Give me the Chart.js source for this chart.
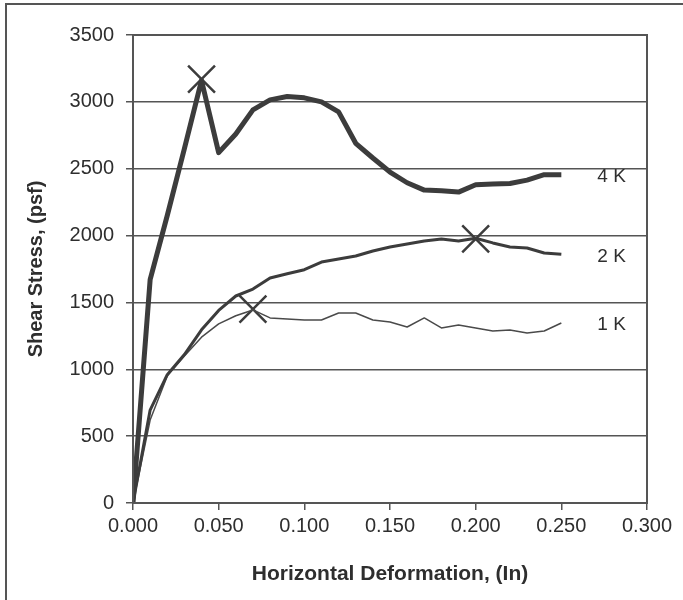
<!DOCTYPE html>
<html>
<head>
<meta charset="utf-8">
<script src="https://cdn.jsdelivr.net/npm/chart.js@4.4.1/dist/chart.umd.min.js"></script>
<style>
  html, body { margin: 0; background: #fff; overflow: hidden; }
  #wrap { position: relative; width: 683px; height: 600px; overflow: hidden; }
  #frame { position: absolute; left: 5px; top: 3px; width: 700px; height: 620px;
           border-top: 2px solid #555; border-left: 2px solid #555; pointer-events: none; }
</style>
</head>
<body>
<div id="wrap">
  <canvas id="shear-chart" width="683" height="600"></canvas>
  <div id="frame"></div>
</div>
<script>
// Horizontal deformation (in)
const deformation = [0, 0.01, 0.02, 0.03, 0.04, 0.05, 0.06, 0.07, 0.08, 0.09, 0.10, 0.11, 0.12,
  0.13, 0.14, 0.15, 0.16, 0.17, 0.18, 0.19, 0.20, 0.21, 0.22, 0.23, 0.24, 0.25];

// Shear stress (psf) for each normal load
const stress4K = [0, 1670, 2150, 2650, 3160, 2620, 2760, 2940, 3015, 3040, 3030, 3000, 2925,
  2690, 2580, 2475, 2395, 2340, 2335, 2325, 2380, 2385, 2390, 2415, 2455, 2455];
const stress2K = [0, 695, 960, 1110, 1295, 1440, 1548, 1600, 1683, 1715, 1745, 1802, 1825,
  1847, 1885, 1915, 1937, 1960, 1975, 1960, 1980, 1945, 1915, 1907, 1870, 1860];
const stress1K = [0, 620, 950, 1100, 1240, 1340, 1400, 1444, 1384, 1376, 1369, 1369, 1421,
  1421, 1369, 1354, 1316, 1384, 1309, 1331, 1309, 1286, 1294, 1271, 1286, 1346];

const seriesLabels = ['4 K', '2 K', '1 K'];

// Peak points marked with an X
const peakX = [0.04, 0.20, 0.07];
const peakY = [3170, 1975, 1450];

const xTicks = [0, 0.05, 0.10, 0.15, 0.20, 0.25, 0.30];
const yTicks = [0, 500, 1000, 1500, 2000, 2500, 3000, 3500];

const ink = '#3c3c3c';
const fontFamily = '"Liberation Sans", Arial, sans-serif';

function toPoints(xs, ys) {
  return xs.map((x, i) => ({ x: x, y: ys[i] }));
}

// Draws the box round the plot area and the "4 K" style labels at the line ends
const endLabels = {
  id: 'endLabels',
  afterDatasetsDraw(chart) {
    const { ctx, chartArea, scales } = chart;
    ctx.save();
    ctx.strokeStyle = '#555';
    ctx.lineWidth = 2;
    ctx.strokeRect(chartArea.left, chartArea.top, chartArea.right - chartArea.left, chartArea.bottom - chartArea.top);

    ctx.fillStyle = '#2e2e2e';
    ctx.font = '19px ' + fontFamily;
    ctx.textAlign = 'left';
    ctx.textBaseline = 'middle';
    [stress4K, stress2K, stress1K].forEach((ys, i) => {
      const lastX = deformation[deformation.length - 1];
      const lastY = ys[ys.length - 1];
      const px = scales.x.getPixelForValue(lastX) + 36;
      const py = scales.y.getPixelForValue(lastY) + 2;
      ctx.fillText(seriesLabels[i], px, py);
    });
    ctx.restore();
  }
};

const ctx = document.getElementById('shear-chart').getContext('2d');

window.myChart = new Chart(ctx, {
  type: 'scatter',
  data: {
    datasets: [
      {
        label: seriesLabels[0],
        data: toPoints(deformation, stress4K),
        showLine: true,
        borderColor: ink,
        borderWidth: 5,
        pointRadius: 0,
        tension: 0,
        borderJoinStyle: 'round'
      },
      {
        label: seriesLabels[1],
        data: toPoints(deformation, stress2K),
        showLine: true,
        borderColor: ink,
        borderWidth: 3,
        pointRadius: 0,
        tension: 0,
        borderJoinStyle: 'round'
      },
      {
        label: seriesLabels[2],
        data: toPoints(deformation, stress1K),
        showLine: true,
        borderColor: '#4a4a4a',
        borderWidth: 1.5,
        pointRadius: 0,
        tension: 0,
        borderJoinStyle: 'round'
      },
      {
        label: 'Peak',
        data: toPoints(peakX, peakY),
        showLine: false,
        pointStyle: 'crossRot',
        pointRadius: 19,
        pointBorderWidth: 2.5,
        pointBorderColor: ink,
        pointBackgroundColor: ink
      }
    ]
  },
  options: {
    responsive: false,
    animation: false,
    events: [],
    layout: { padding: { top: 35, right: 36, bottom: 0, left: 0 } },
    plugins: {
      legend: { display: false },
      tooltip: { enabled: false }
    },
    scales: {
      x: {
        type: 'linear',
        min: 0,
        max: 0.3,
        afterFit(scale) { scale.height = 97; },
        afterBuildTicks(scale) { scale.ticks = xTicks.map(v => ({ value: v })); },
        grid: { drawOnChartArea: false, drawTicks: true, tickLength: 7, color: '#555', lineWidth: 1.5 },
        border: { display: true, color: '#555', width: 2 },
        ticks: {
          padding: 4,
          color: '#2e2e2e',
          font: { family: fontFamily, size: 20 },
          callback: v => v.toFixed(3)
        },
        title: {
          display: true,
          text: 'Horizontal Deformation, (In)',
          color: '#2e2e2e',
          font: { family: fontFamily, size: 21, weight: 'bold' },
          padding: { top: 0, bottom: 13 }
        }
      },
      y: {
        type: 'linear',
        min: 0,
        max: 3500,
        afterFit(scale) { scale.width = 133; },
        afterBuildTicks(scale) { scale.ticks = yTicks.map(v => ({ value: v })); },
        grid: { drawOnChartArea: true, drawTicks: true, tickLength: 7, color: '#555', lineWidth: 1.5 },
        border: { display: true, color: '#555', width: 2 },
        ticks: {
          padding: 12,
          color: '#2e2e2e',
          font: { family: fontFamily, size: 20 },
          callback: v => String(v)
        },
        title: {
          display: true,
          text: 'Shear Stress, (psf)',
          color: '#2e2e2e',
          font: { family: fontFamily, size: 20, weight: 'bold' },
          padding: { top: 24, bottom: 0 }
        }
      }
    }
  },
  plugins: [endLabels]
});
</script>
</body>
</html>
